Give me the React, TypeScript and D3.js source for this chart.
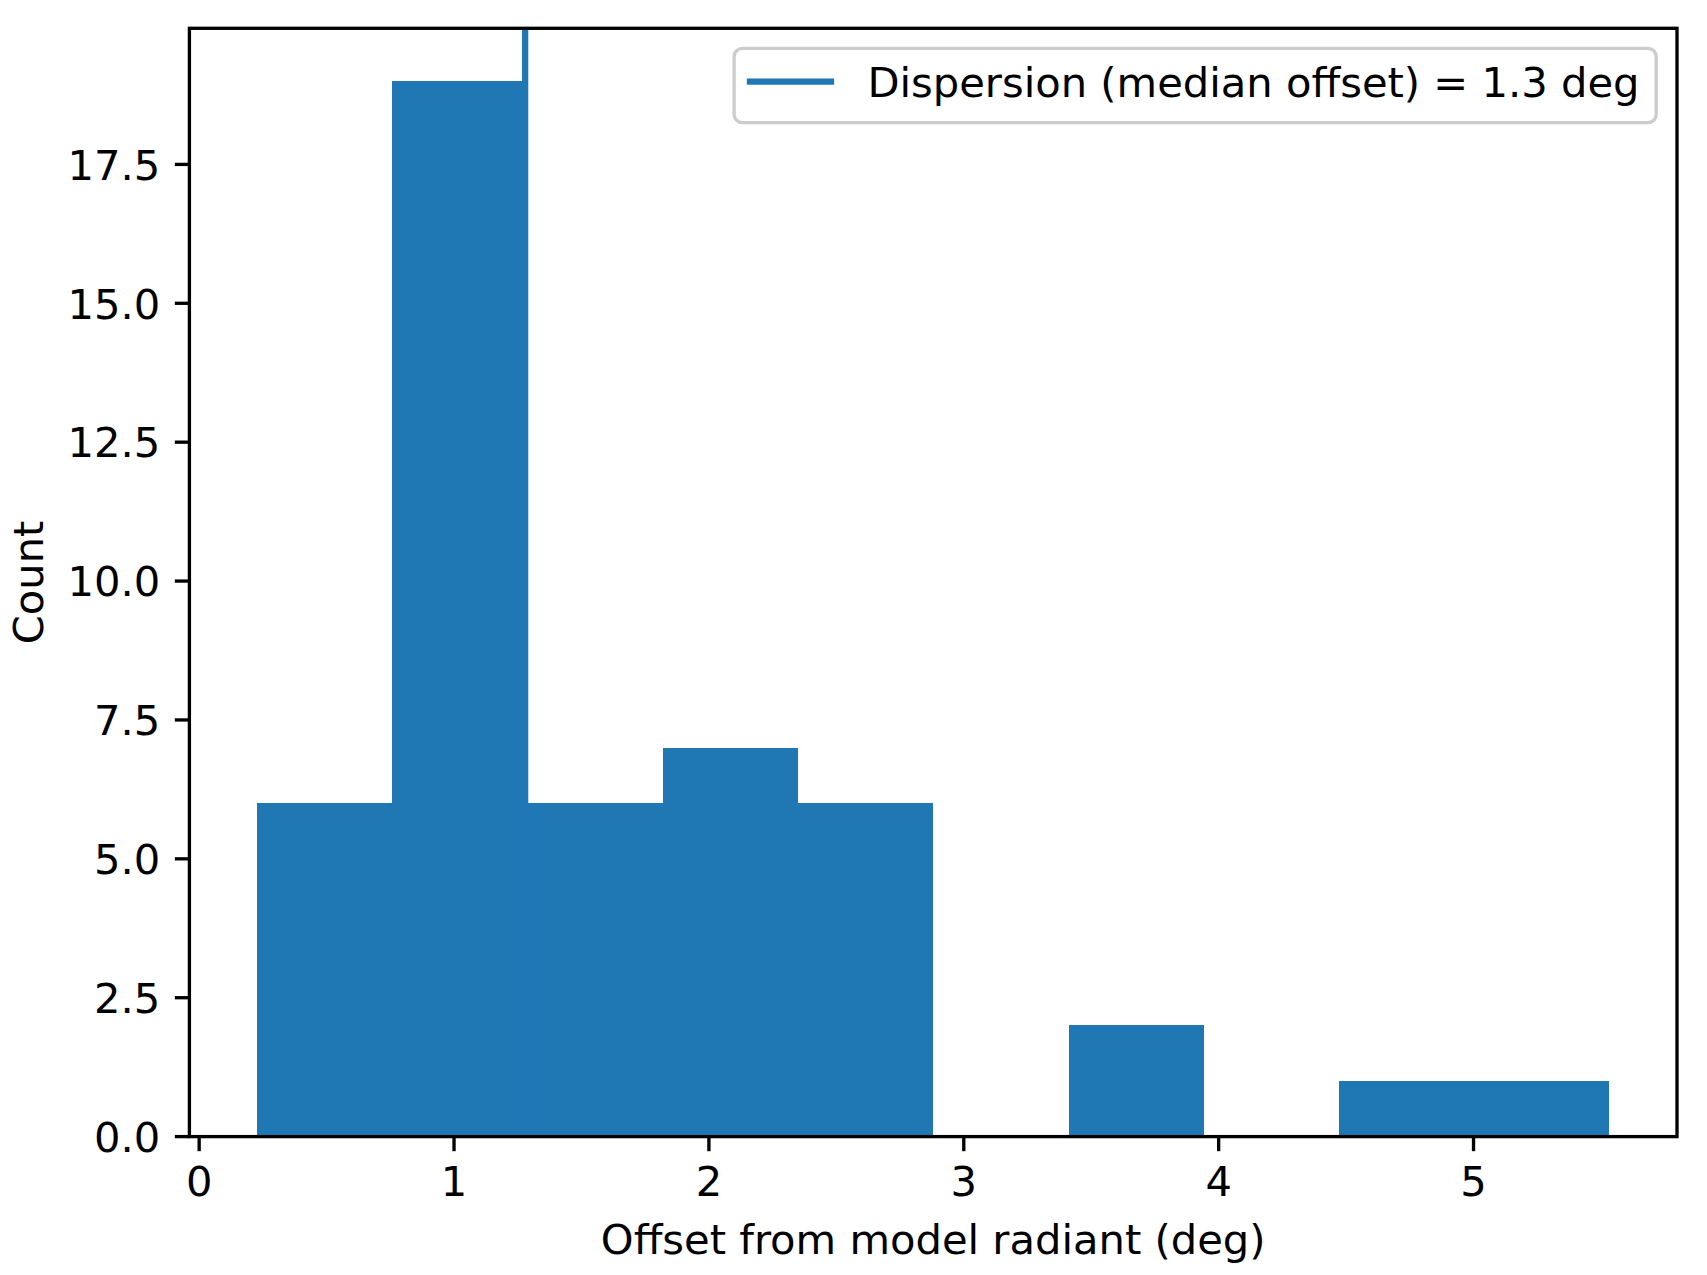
import React, { useEffect, useRef } from 'react';
import * as d3 from 'd3';

// histogram of offsets from the model radiant
const binEdges = [0.227, 0.758, 1.288, 1.819, 2.349, 2.88, 3.411, 3.941, 4.472, 5.002, 5.533];
const counts = [6, 19, 6, 7, 6, 0, 2, 0, 1, 1];
const medianOffset = 1.279;
const legendLabel = 'Dispersion (median offset) = 1.3 deg';
const xTicks = [0, 1, 2, 3, 4, 5];
const yTicks = [0, 2.5, 5, 7.5, 10, 12.5, 15, 17.5];
const xLabel = 'Offset from model radiant (deg)';
const yLabel = 'Count';

const W = 1707;
const H = 1275;
const BLUE = '#1f77b4';
const FONT = 'DejaVu Sans, sans-serif';
const FS = 41.67;

const App: React.FC = () => {
  const svgRef = useRef<SVGSVGElement>(null);

  useEffect(() => {
    if (!svgRef.current) return;
    const svg = d3.select(svgRef.current);
    svg.selectAll('*').remove();

    const margin = { left: 189.4, top: 28.3 };
    const width = 1487.6;
    const height = 1108.3;

    const lo = binEdges[0];
    const hi = binEdges[binEdges.length - 1];
    const pad = (hi - lo) * 0.05;
    const x = d3.scaleLinear().domain([lo - pad, hi + pad]).range([0, width]);
    const yMax = (d3.max(counts) || 1) * 1.05;
    const y = d3.scaleLinear().domain([0, yMax]).range([height, 0]);

    svg.append('rect').attr('width', W).attr('height', H).attr('fill', 'white');

    const g = svg.append('g').attr('transform', `translate(${margin.left},${margin.top})`);

    g.append('defs').append('clipPath').attr('id', 'plotClip')
      .append('rect').attr('width', width).attr('height', height);

    const plot = g.append('g').attr('clip-path', 'url(#plotClip)');

    // bars
    plot.selectAll('rect.bar')
      .data(counts.map((c, i) => ({ c, x0: binEdges[i], x1: binEdges[i + 1] })))
      .enter()
      .append('rect')
      .attr('class', 'bar')
      .attr('x', d => x(d.x0))
      .attr('width', d => x(d.x1) - x(d.x0))
      .attr('y', d => y(d.c))
      .attr('height', d => y(0) - y(d.c))
      .attr('fill', BLUE)
      .attr('shape-rendering', 'crispEdges');

    // median line
    plot.append('line')
      .attr('x1', x(medianOffset)).attr('x2', x(medianOffset))
      .attr('y1', 0).attr('y2', height)
      .attr('stroke', BLUE)
      .attr('stroke-width', 6.25);

    // spines
    g.append('rect')
      .attr('width', width).attr('height', height)
      .attr('fill', 'none').attr('stroke', 'black').attr('stroke-width', 3.33);

    const tickLen = 14.58;
    const tickPad = 14.58;

    // x ticks
    const xt = g.append('g').selectAll('g').data(xTicks).enter().append('g')
      .attr('transform', d => `translate(${x(d)},${height})`);
    xt.append('line').attr('y2', tickLen).attr('stroke', 'black').attr('stroke-width', 3.33);
    xt.append('text')
      .attr('y', tickLen + tickPad + 30.4)
      .attr('text-anchor', 'middle')
      .attr('font-family', FONT).attr('font-size', FS)
      .text(d => String(d));

    // y ticks
    const yt = g.append('g').selectAll('g').data(yTicks).enter().append('g')
      .attr('transform', d => `translate(0,${y(d)})`);
    yt.append('line').attr('x2', -tickLen).attr('stroke', 'black').attr('stroke-width', 3.33);
    yt.append('text')
      .attr('x', -tickLen - tickPad)
      .attr('dy', '0.365em')
      .attr('text-anchor', 'end')
      .attr('font-family', FONT).attr('font-size', FS)
      .text(d => d.toFixed(1));

    // axis labels
    g.append('text')
      .attr('x', width / 2).attr('y', height + 117.4)
      .attr('text-anchor', 'middle')
      .attr('font-family', FONT).attr('font-size', FS)
      .text(xLabel);

    g.append('text')
      .attr('transform', `translate(-146.7,${height / 2}) rotate(-90)`)
      .attr('text-anchor', 'middle')
      .attr('font-family', FONT).attr('font-size', FS)
      .text(yLabel);

    // legend
    const legend = g.append('g');
    const box = legend.append('rect');
    const label = legend.append('text')
      .attr('font-family', FONT).attr('font-size', FS)
      .text(legendLabel);
    const textW = (label.node() as SVGTextElement).getComputedTextLength();
    const bp = 16.7;
    const handle = 83.3;
    const hp = 33.3;
    const legW = bp + handle + hp + textW + bp;
    const legH = 74.4;
    const legX = width - 20.8 - legW;
    const legY = 20.0;
    box.attr('x', legX).attr('y', legY)
      .attr('width', legW).attr('height', legH)
      .attr('rx', 8.3).attr('ry', 8.3)
      .attr('fill', 'white').attr('fill-opacity', 0.8)
      .attr('stroke', '#cccccc').attr('stroke-width', 3.33);
    legend.append('line')
      .attr('x1', legX + bp - 4).attr('x2', legX + bp - 4 + handle + 4)
      .attr('y1', legY + 33.4).attr('y2', legY + 33.4)
      .attr('stroke', BLUE).attr('stroke-width', 6.25);
    label.attr('x', legX + bp + handle + hp).attr('y', legY + 48.4);
  }, []);

  return (
    <svg
      ref={svgRef}
      width={W}
      height={H}
      style={{ display: 'block', position: 'absolute', left: 0, top: 0 }}
    />
  );
};

export default App;
